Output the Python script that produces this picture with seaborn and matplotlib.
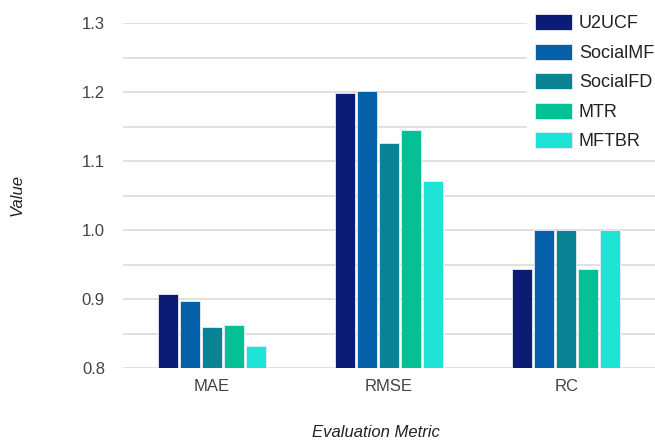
import matplotlib
matplotlib.use("Agg")
import matplotlib.pyplot as plt
import seaborn as sns
import pandas as pd

# chart values
metrics = ["MAE", "RMSE", "RC"]
methods = ["U2UCF", "SocialMF", "SocialFD", "MTR", "MFTBR"]
u2ucf = [0.907, 1.199, 0.943]
socialmf = [0.897, 1.201, 1.000]
socialfd = [0.859, 1.126, 1.000]
mtr = [0.862, 1.145, 0.943]
mftbr = [0.832, 1.071, 1.000]
colors = ["#0c1b74", "#0461a9", "#0a8494", "#05bf95", "#1ee4d6"]

series = [u2ucf, socialmf, socialfd, mtr, mftbr]
rows = []
for name, vals in zip(methods, series):
    for m, v in zip(metrics, vals):
        rows.append({"Evaluation Metric": m, "Method": name, "Value": v})
df = pd.DataFrame(rows)

sns.set_theme(style="white")
plt.rcParams["font.family"] = ["Liberation Sans", "DejaVu Sans"]

fig = plt.figure(figsize=(6.55, 4.42), dpi=100)
ax = fig.add_axes([123 / 655, 1 - 368 / 442, 1 - 123 / 655, (368 - 23) / 442])

sns.barplot(data=df, x="Evaluation Metric", y="Value", hue="Method",
            hue_order=methods, palette=colors, saturation=1, width=0.62, gap=0.1,
            edgecolor="#e8eef5", linewidth=0.6, ax=ax, legend=True, zorder=3)

ax.set_ylim(0.8, 1.3)
ax.set_xlim(-0.5, 2.5)
ax.set_yticks([0.8, 0.9, 1.0, 1.1, 1.2, 1.3])
ax.set_yticklabels(["0.8", "0.9", "1.0", "1.1", "1.2", "1.3"])
for y in [0.8, 0.85, 0.9, 0.95, 1.0, 1.05, 1.1, 1.15, 1.2, 1.25, 1.3]:
    ax.axhline(y, color="#dcdcdc", linewidth=1.2, zorder=1)

for s in ax.spines.values():
    s.set_visible(False)
ax.tick_params(axis="both", length=0, labelsize=12, labelcolor="#444444")
ax.tick_params(axis="y", pad=13)
ax.tick_params(axis="x", pad=8)

ax.set_ylabel("Value", fontsize=12, style="italic", color="#222222")
ax.set_xlabel("Evaluation Metric", fontsize=12, style="italic", color="#222222")
ax.yaxis.set_label_coords(-98 / 532, 0.5)
ax.xaxis.set_label_coords((376 - 123) / 532, -57 / 345)

leg = ax.legend(loc="upper left", bbox_to_anchor=(527 / 655, 1 - 6 / 442),
                bbox_transform=fig.transFigure, frameon=True, fontsize=13,
                handlelength=2.05, handleheight=1.0, labelspacing=0.62,
                handletextpad=0.38, borderpad=0.45, borderaxespad=0)
leg.get_frame().set_facecolor("white")
leg.get_frame().set_edgecolor("white")
leg.get_frame().set_alpha(1)
leg.set_zorder(5)
for t in leg.get_texts():
    t.set_color("#222222")

fig.savefig("out.png", dpi=100)
